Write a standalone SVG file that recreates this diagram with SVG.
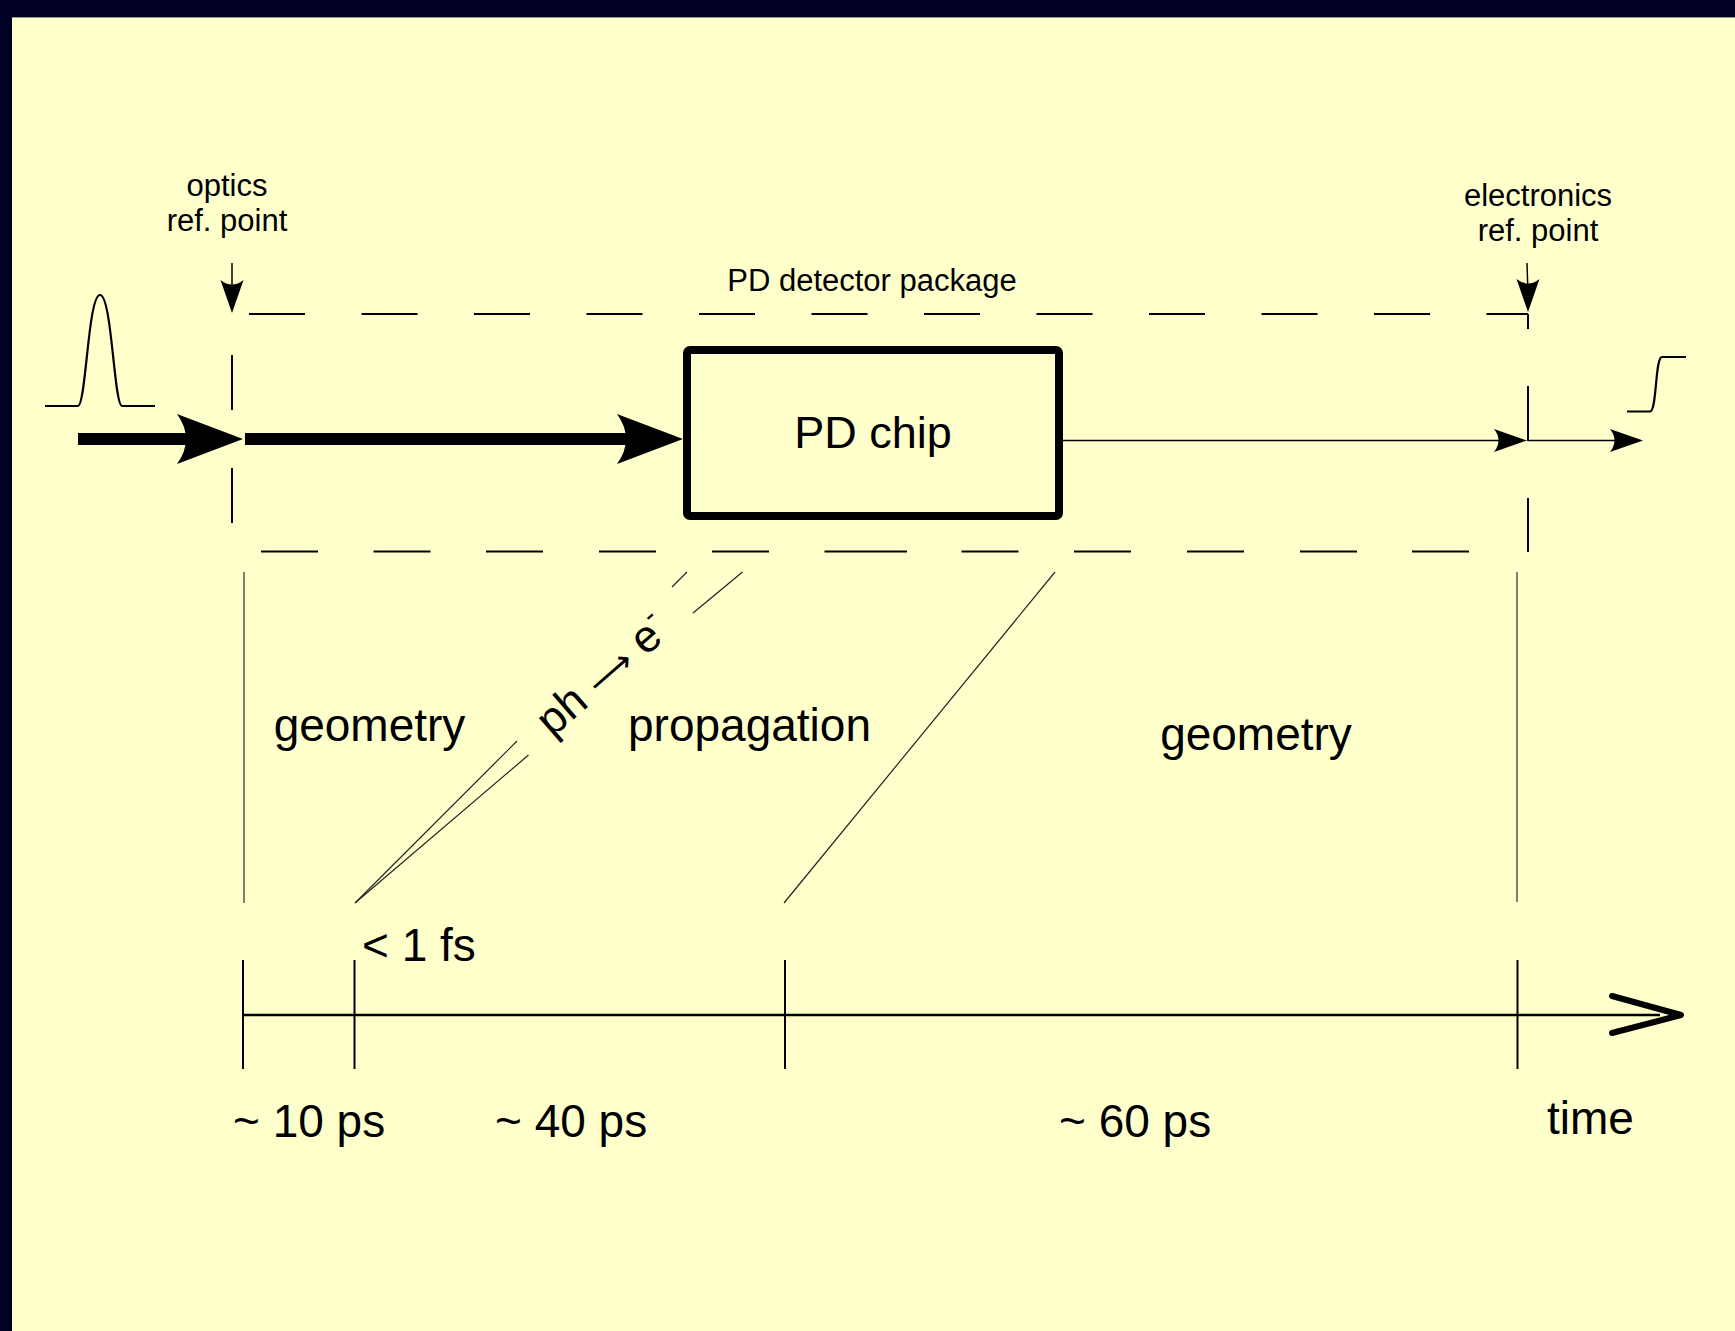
<svg xmlns="http://www.w3.org/2000/svg" width="1735" height="1331" viewBox="0 0 1735 1331">
<style>
text{font-family:"Liberation Sans",Arial,sans-serif;fill:#000}
.small{font-size:31px;text-anchor:middle}
.big{font-size:46px}
.mid{text-anchor:middle}
.dash{stroke:#000;stroke-width:2;fill:none}
.thin{stroke:#000;stroke-width:1.5;fill:none}
.grey{stroke:#555;stroke-width:1.5;fill:none}
.diag{stroke:#222;stroke-width:1.2;fill:none}
.thick{stroke:#000;stroke-width:12;fill:none}
.tick{stroke:#000;stroke-width:2;fill:none}
</style>
<defs>
<path id="barb" d="M0,0 L-66,-25 Q-48,0 -66,25 Z" fill="#000"/>
</defs>
<rect x="0" y="0" width="1735" height="1331" fill="#000022"/>
<rect x="12" y="17" width="1723" height="1314" fill="#FFFFCC"/>
<line x1="12" y1="17.5" x2="1735" y2="17.5" stroke="#9a9a8a" stroke-width="1"/>

<g id="input-pulse">
<path d="M45,406 H78 C86,406 88,295 100,295 C112,295 114,406 122,406 H155" stroke="#000" stroke-width="2.2" fill="none"/>
</g>
<g id="output-step">
<path d="M1627,411.5 H1650 C1657,411.5 1655,357 1662,357 H1686" stroke="#000" stroke-width="2.2" fill="none"/>
</g>

<g id="optics-ref">
<text class="small" x="227" y="196">optics</text>
<text class="small" x="227" y="231">ref. point</text>
<line x1="232" y1="263" x2="232" y2="295" class="thin"/>
<use href="#barb" transform="translate(232,313) rotate(90) scale(0.5,0.46)"/>
</g>
<g id="electronics-ref">
<text class="small" x="1538" y="206">electronics</text>
<text class="small" x="1538" y="241">ref. point</text>
<line x1="1527" y1="263" x2="1528" y2="295" class="thin"/>
<use href="#barb" transform="translate(1528,312) rotate(90) scale(0.5,0.46)"/>
</g>

<g id="pd-package">
<text class="small" x="872" y="291">PD detector package</text>
<line x1="249" y1="314" x2="1528" y2="314" class="dash" stroke-dasharray="56 56.5"/>
<path class="dash" d="M232,355 V410 M232,468 V523 M1528,314 V329 M1528,386 V441 M1528,498 V552"/>
<path class="dash" d="M261,551.5 H318 M373.5,551.5 H430.5 M486,551.5 H543 M599,551.5 H656 M712,551.5 H769 M824.5,551.5 H907 M961.5,551.5 H1018.5 M1074,551.5 H1131 M1187,551.5 H1244 M1300,551.5 H1357 M1412,551.5 H1469"/>
</g>

<g id="pd-chip">
<rect x="687" y="350" width="372" height="166" rx="3" fill="none" stroke="#000" stroke-width="8"/>
<text class="mid" x="873" y="448" font-size="45">PD chip</text>
</g>

<g id="connectors">
<line x1="78" y1="439" x2="190" y2="439" class="thick"/>
<use href="#barb" transform="translate(243,439)"/>
<line x1="245" y1="439" x2="630" y2="439" class="thick"/>
<use href="#barb" transform="translate(683,439)"/>
<line x1="1063" y1="440.5" x2="1510" y2="440.5" class="thin"/>
<use href="#barb" transform="translate(1527,440.5) scale(0.5,0.46)"/>
<line x1="1528" y1="440.5" x2="1625" y2="440.5" class="thin"/>
<use href="#barb" transform="translate(1643,440.5) scale(0.5,0.46)"/>
</g>

<g id="timing-lines">
<line x1="244" y1="572" x2="244" y2="903" class="grey"/>
<line x1="1517" y1="572" x2="1517" y2="902" class="grey"/>
<line x1="784" y1="903" x2="1055" y2="572" class="diag"/>
<path class="diag" d="M355,903 L517,741 M672,587 L687,572"/>
<path class="diag" d="M355,903 L528.5,755 M693,613 L742.5,572"/>
</g>

<g id="phase-labels">
<text class="big mid" x="369.5" y="741">geometry</text>
<text class="big mid" x="749.5" y="741">propagation</text>
<text class="big mid" x="1256" y="750">geometry</text>
<text font-size="45" text-anchor="middle" transform="translate(612,686) rotate(-41)">ph <tspan font-family="DejaVu Sans" font-size="34">⟶</tspan> e<tspan font-size="28" dy="-20">-</tspan></text>
</g>

<g id="time-axis">
<line x1="243" y1="1015" x2="1660" y2="1015" stroke="#000" stroke-width="2.5"/>
<polyline points="1612,996 1681,1015 1612,1033" fill="none" stroke="#000" stroke-width="6" stroke-linecap="round" stroke-linejoin="round"/>
<path class="tick" d="M243,960 V1069 M354.5,960 V1069 M785,960 V1069 M1517.5,960 V1069"/>
<text class="big" x="362" y="961">&lt; 1 fs</text>
<text class="big" x="233" y="1137">~ 10 ps</text>
<text class="big" x="495" y="1137">~ 40 ps</text>
<text class="big" x="1059" y="1137">~ 60 ps</text>
<text class="big" x="1547" y="1134">time</text>
</g>
</svg>
